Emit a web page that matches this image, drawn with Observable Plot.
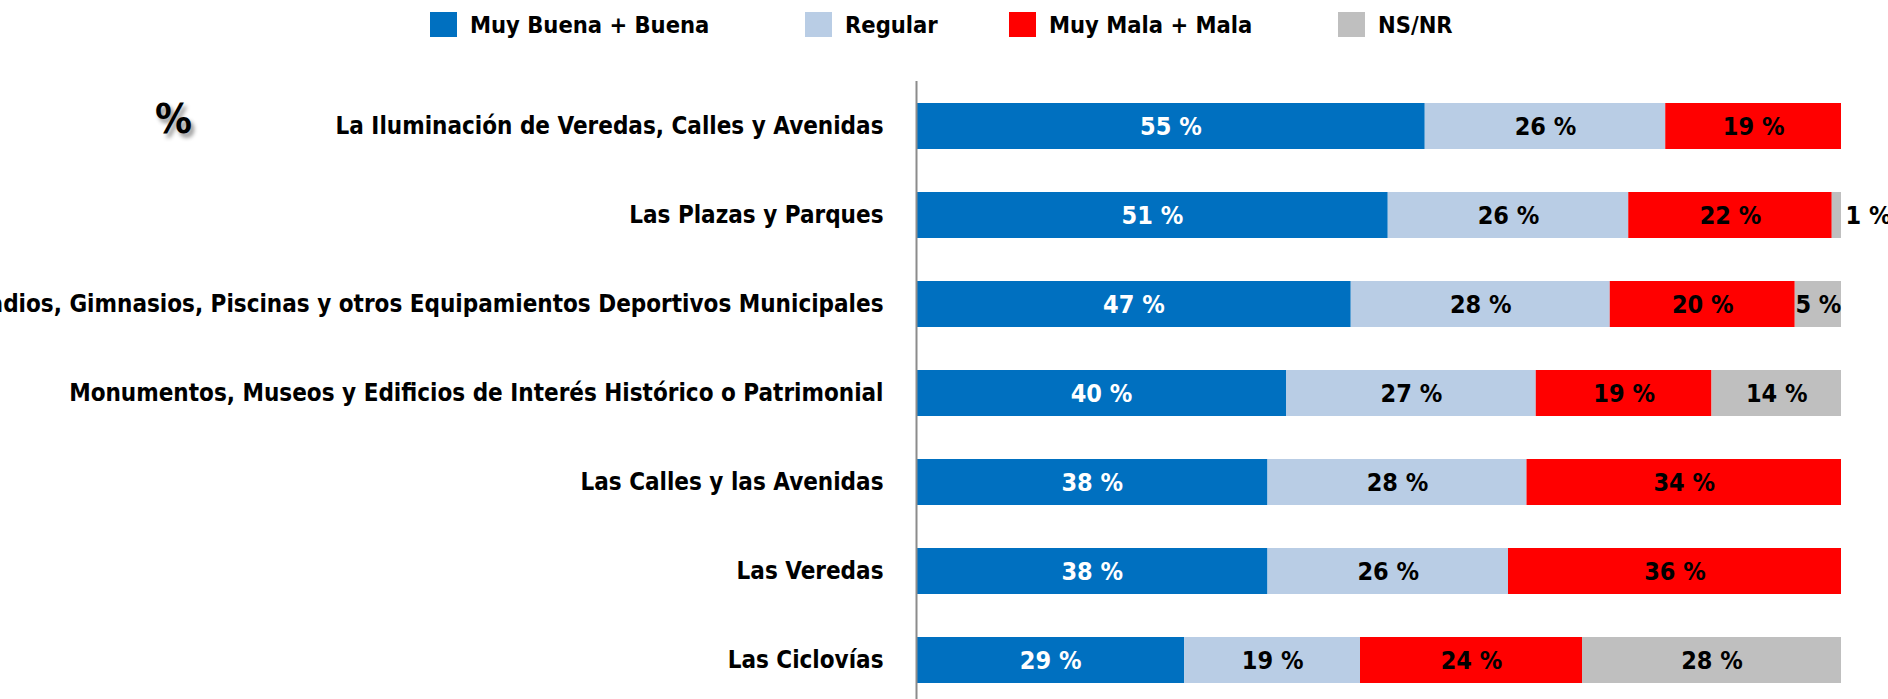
<!DOCTYPE html>
<html>
<head>
<meta charset="utf-8">
<script src="https://cdn.jsdelivr.net/npm/d3@7"></script>
<script src="https://cdn.jsdelivr.net/npm/@observablehq/plot@0.6"></script>
<style>
  html, body { margin: 0; padding: 0; background: #fff; overflow: hidden; }
  body { width: 1888px; height: 699px; position: relative; font-family: "DejaVu Sans Condensed", "DejaVu Sans", sans-serif; font-stretch: condensed; }
  #legend { position: relative; height: 60px; }
  .item { position: absolute; top: 12px; display: flex; align-items: center; height: 25px; font-weight: bold; font-size: 23.5px; color: #000; }
  .sw { width: 27px; height: 25px; margin-right: 13px; }
  #pct { position: absolute; left: 155px; top: 95px; font-size: 41px; font-weight: bold; color: #000; text-shadow: 3px 4px 4px rgba(0,0,0,0.45); }
  #chart { position: absolute; left: 0; top: 60px; }
</style>
</head>
<body>
<div id="legend"></div>
<div id="pct">%</div>
<div id="chart"></div>
<script>
const categories = [
  "La Iluminación de Veredas, Calles y Avenidas",
  "Las Plazas y Parques",
  "Estadios, Gimnasios, Piscinas y otros Equipamientos Deportivos Municipales",
  "Monumentos, Museos y Edificios de Interés Histórico o Patrimonial",
  "Las Calles y las Avenidas",
  "Las Veredas",
  "Las Ciclovías"
];
const seriesNames = ["Muy Buena + Buena", "Regular", "Muy Mala + Mala", "NS/NR"];
const muyBuena = [55, 51, 47, 40, 38, 38, 29];
const regular  = [26, 26, 28, 27, 28, 26, 19];
const mala     = [19, 22, 20, 19, 34, 36, 24];
const nsnr     = [0, 1, 5, 14, 0, 0, 28];
const colors = ["#0070C0", "#B9CDE5", "#FF0000", "#BFBFBF"];
const legendX = [430, 805, 1009, 1338];

const seriesValues = [muyBuena, regular, mala, nsnr];
const rows = [];
categories.forEach((c, i) => {
  let acc = 0;
  seriesValues.forEach((vals, s) => {
    const v = vals[i];
    if (v > 0) {
      rows.push({category: c, series: seriesNames[s], value: v, x1: acc, x2: acc + v, s});
    }
    acc += v;
  });
});

// legend
const legend = document.getElementById("legend");
seriesNames.forEach((n, i) => {
  const it = document.createElement("div");
  it.className = "item";
  it.style.left = legendX[i] + "px";
  it.innerHTML = `<div class="sw" style="background:${colors[i]}"></div><span>${n}</span>`;
  legend.appendChild(it);
});

const font = '"DejaVu Sans Condensed", "DejaVu Sans", sans-serif';
const chart = Plot.plot({
  width: 1888,
  height: 645,
  marginLeft: 916,
  marginRight: 47,
  marginTop: 21,
  marginBottom: 0,
  style: {fontFamily: font, fontSize: "24px", fontWeight: "bold", color: "#000", overflow: "visible"},
  x: {domain: [0, 100], axis: null},
  y: {domain: categories, paddingInner: 0.48, paddingOuter: 0.24, label: null},
  color: {domain: seriesNames, range: colors},
  marks: [
    Plot.barX(rows, {x1: "x1", x2: "x2", y: "category", fill: "series"}),
    Plot.text(rows.filter(d => d.value >= 3), {
      x: d => (d.x1 + d.x2) / 2, y: "category",
      text: d => d.value + " %",
      fill: d => d.s === 0 ? "#fff" : "#000",
      fontSize: 25, fontWeight: "bold"
    }),
    Plot.text(rows.filter(d => d.value < 3), {
      x: "x2", y: "category",
      text: d => d.value + " %",
      textAnchor: "start", dx: 4,
      fill: "#000", fontSize: 25, fontWeight: "bold"
    }),
    Plot.ruleX([0], {stroke: "#8C8C8C", strokeWidth: 2}),
    Plot.axisY({tickSize: 0, tickPadding: 33, label: null, fontSize: 24, fontWeight: "bold", fill: "#000"})
  ]
});
document.getElementById("chart").appendChild(chart);
</script>
</body>
</html>
